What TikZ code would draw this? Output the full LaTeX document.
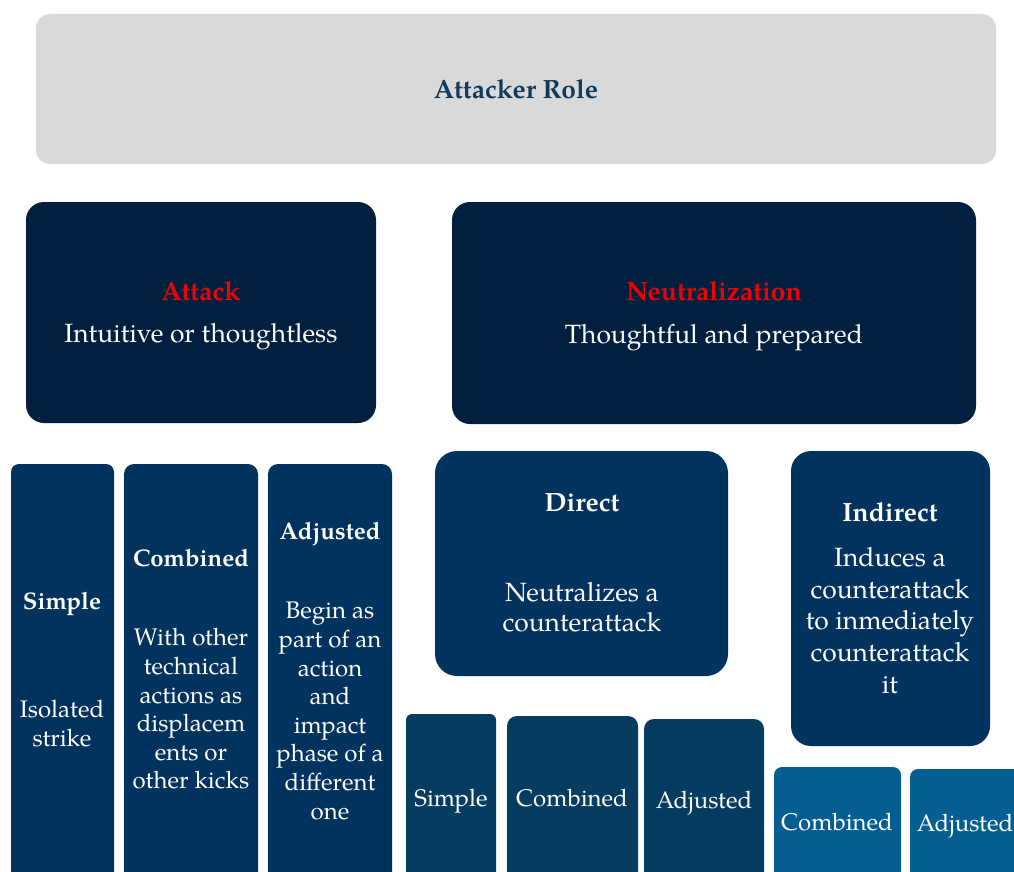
\documentclass[tikz,border=0pt]{standalone}
\usepackage{fontspec}
\setmainfont{TeX Gyre Pagella}
\definecolor{grayfill}{HTML}{D9D9D9}
\definecolor{rolecol}{HTML}{0F3A5E}
\definecolor{darknavy}{HTML}{01203F}
\definecolor{colnavy}{HTML}{02335E}
\definecolor{dirnavy}{HTML}{063C60}
\definecolor{indblue}{HTML}{045E91}
\definecolor{redtxt}{HTML}{F00000}
\tikzset{
  box/.style={inner sep=0pt, outer sep=0pt, anchor=north west, draw=none},
  txt/.style={text=white, align=center, inner sep=0pt, font=\fontsize{24}{28.6}\selectfont},
  ttl/.style={text=white, align=center, inner sep=0pt, font=\fontsize{24}{28.6}\selectfont\bfseries},
  btxt/.style={text=white, align=center, inner sep=0pt, font=\fontsize{26.4}{31.6}\selectfont},
  bttl/.style={text=white, align=center, inner sep=0pt, font=\fontsize{26.4}{31.6}\selectfont\bfseries},
}
\begin{document}
\begin{tikzpicture}[x=1pt,y=-1pt]
\useasboundingbox (0,0) rectangle (1014,872);
\clip (0,0) rectangle (1014,872);
% top
\node[box, fill=grayfill, rounded corners=14pt, minimum width=960pt, minimum height=150pt] (role) at (36,14) {};
\node[bttl, text=rolecol] (roletxt) at (516,89) {Attacker Role};
% second row
\node[box, fill=darknavy, rounded corners=18pt, minimum width=350pt, minimum height=221pt] (attack) at (26,202) {};
\node[bttl, text=redtxt] (attackt) at (201,291) {Attack};
\node[btxt] (attackb) at (201,337) {Intuitive or thoughtless};
\node[box, fill=darknavy, rounded corners=18pt, minimum width=524pt, minimum height=222pt] (neut) at (452,202) {};
\node[bttl, text=redtxt] (neutt) at (714,291) {Neutralization};
\node[btxt] (neutb) at (714,338) {Thoughtful and prepared};
% attack columns
\node[box, fill=colnavy, rounded corners=8pt, minimum width=103pt, minimum height=430pt] (simple) at (11,464) {};
\node[ttl] (simplet) at (62,604) {Simple};
\node[txt] (simpleb) at (62,723.5) {Isolated\\strike};
\node[box, fill=colnavy, rounded corners=10pt, minimum width=134pt, minimum height=430pt] (comb) at (124,464) {};
\node[ttl] (combt) at (191,558) {Combined};
\node[txt] (combb) at (191,709) {With other\\technical\\actions as\\displacem\\ents or\\other kicks};
\node[box, fill=colnavy, rounded corners=10pt, minimum width=124pt, minimum height=430pt] (adj) at (268,464) {};
\node[ttl] (adjt) at (330,534) {Adjusted};
\node[txt] (adjb) at (330,711) {Begin as\\part of an\\action\\and\\impact\\phase of a\\different\\one};
% neutralization
\node[box, fill=colnavy, rounded corners=22pt, minimum width=293pt, minimum height=225pt] (direct) at (435,451) {};
\node[bttl] (directt) at (582,503) {Direct};
\node[btxt, font=\fontsize{26.4}{30}\selectfont] (directb) at (582,607) {Neutralizes a\\counterattack};
\node[box, fill=colnavy, rounded corners=20pt, minimum width=199pt, minimum height=295pt] (indirect) at (791,451) {};
\node[bttl] (indirectt) at (890,512) {Indirect};
\node[btxt] (indirectb) at (890,620.5) {Induces a\\counterattack\\to inmediately\\counterattack\\it};
% direct subtypes
\node[box, fill=dirnavy, rounded corners=6pt, minimum width=90pt, minimum height=180pt] (ds) at (406,714) {};
\node[txt] (dst) at (451,801) {Simple};
\node[box, fill=dirnavy, rounded corners=10pt, minimum width=131pt, minimum height=180pt] (dc) at (507,716) {};
\node[txt] (dct) at (572,798) {Combined};
\node[box, fill=dirnavy, rounded corners=10pt, minimum width=120pt, minimum height=180pt] (da) at (644,719) {};
\node[txt] (dat) at (704,803) {Adjusted};
% indirect subtypes
\node[box, fill=indblue, rounded corners=8pt, minimum width=127pt, minimum height=130pt] (ic) at (774,767) {};
\node[txt] (ict) at (837,822) {Combined};
\node[box, fill=indblue, rounded corners=8pt, minimum width=130pt, minimum height=130pt] (ia) at (910,769) {};
\node[txt] (iat) at (965,826) {Adjusted};
\end{tikzpicture}
\end{document}
